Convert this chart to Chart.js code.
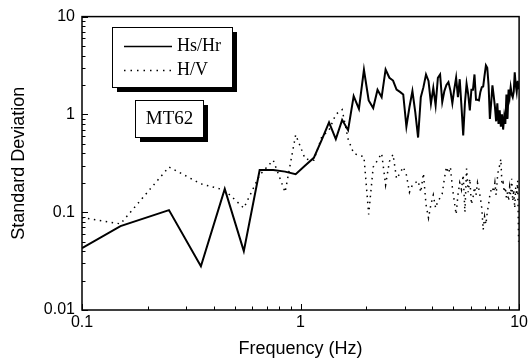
<!DOCTYPE html>
<html>
<head>
<meta charset="utf-8">
<script src="https://cdn.jsdelivr.net/npm/chart.js@4.4.0/dist/chart.umd.min.js"></script>
<style>
  html, body { margin: 0; padding: 0; background: #fff; }
</style>
</head>
<body>
<canvas id="chart" width="531" height="360"></canvas>
<script>
// frequencies (Hz) of the spectral estimates
const frequency = [
  0.1, 0.15, 0.25, 0.35, 0.45, 0.55, 0.65, 0.75, 0.85, 0.95,
  1.05, 1.15, 1.25, 1.35, 1.45, 1.55, 1.65, 1.75, 1.85, 1.95,
  2.05, 2.15, 2.25, 2.35, 2.45, 2.55, 2.65, 2.75, 2.85, 2.95,
  3.05, 3.15, 3.25, 3.35, 3.45, 3.55, 3.65, 3.75, 3.85, 3.95,
  4.05, 4.15, 4.25, 4.35, 4.45, 4.55, 4.65, 4.75, 4.85, 4.95,
  5.05, 5.15, 5.25, 5.35, 5.45, 5.55, 5.65, 5.75, 5.85, 5.95,
  6.05, 6.15, 6.25, 6.35, 6.45, 6.55, 6.65, 6.75, 6.85, 6.95,
  7.05, 7.15, 7.25, 7.35, 7.45, 7.55, 7.65, 7.75, 7.85, 7.95,
  8.05, 8.15, 8.25, 8.35, 8.45, 8.55, 8.65, 8.75, 8.85, 8.95,
  9.05, 9.15, 9.25, 9.35, 9.45, 9.55, 9.65, 9.75, 9.85, 9.95
];
const hsHr = [
  0.043, 0.072, 0.105, 0.028, 0.173, 0.040, 0.27, 0.27, 0.26, 0.245,
  0.30, 0.36, 0.55, 0.83, 0.56, 0.88, 0.69, 1.54, 1.14, 2.86,
  1.39, 1.16, 1.79, 1.50, 2.88, 2.37, 2.22, 1.79, 1.70, 1.60,
  0.75, 1.19, 1.73, 1.05, 0.58, 1.50, 1.90, 2.56, 2.20, 1.29,
  1.87, 1.24, 2.37, 2.56, 1.34, 1.73, 2.00, 2.14, 1.75, 1.30,
  1.80, 2.37, 1.50, 2.29, 1.20, 0.61, 1.30, 2.06, 1.60, 1.10,
  1.79, 1.79, 2.56, 1.41, 1.41, 1.39, 1.70, 1.90, 1.93, 2.50,
  3.17, 3.00, 2.00, 0.90, 1.30, 1.98, 1.56, 1.20, 0.85, 1.30,
  0.80, 1.10, 0.75, 1.00, 0.70, 0.95, 0.80, 1.60, 0.90, 1.80,
  1.50, 1.90, 1.60, 1.50, 1.70, 2.70, 2.00, 1.70, 2.20, 1.80
];
const hv = [
  0.088, 0.076, 0.29, 0.195, 0.168, 0.11, 0.24, 0.34, 0.16, 0.62,
  0.35, 0.34, 0.59, 0.69, 1.0, 1.12, 0.56, 0.40, 0.38, 0.37,
  0.095, 0.29, 0.34, 0.40, 0.19, 0.33, 0.39, 0.22, 0.25, 0.29,
  0.24, 0.16, 0.19, 0.20, 0.21, 0.16, 0.25, 0.12, 0.087, 0.12,
  0.15, 0.11, 0.13, 0.14, 0.155, 0.22, 0.29, 0.25, 0.29, 0.18,
  0.13, 0.095, 0.15, 0.20, 0.17, 0.24, 0.10, 0.28, 0.16, 0.22,
  0.12, 0.14, 0.18, 0.15, 0.20, 0.17, 0.14, 0.11, 0.066, 0.09,
  0.075, 0.10, 0.12, 0.15, 0.17, 0.18, 0.16, 0.20, 0.15, 0.22,
  0.28, 0.30, 0.35, 0.19, 0.20, 0.16, 0.18, 0.14, 0.16, 0.13,
  0.18, 0.15, 0.22, 0.13, 0.17, 0.11, 0.18, 0.15, 0.21, 0.05
];
const seriesNames = ['Hs/Hr', 'H/V'];
const stationName = 'MT62';

// axis ticks (major ones get a label)
const xTickValues = [0.1, 0.2, 0.3, 0.4, 0.5, 0.6, 0.7, 0.8, 0.9, 1, 2, 3, 4, 5, 6, 7, 8, 9, 10];
const xTickLabels = {0.1: '0.1', 1: '1', 10: '10'};
const yTickValues = [0.01, 0.02, 0.03, 0.04, 0.05, 0.06, 0.07, 0.08, 0.09,
  0.1, 0.2, 0.3, 0.4, 0.5, 0.6, 0.7, 0.8, 0.9, 1, 2, 3, 4, 5, 6, 7, 8, 9, 10];
const yTickLabels = {0.01: '0.01', 0.1: '0.1', 1: '1', 10: '10'};

const sans = "'Liberation Sans', Arial, sans-serif";
const serif = "'Liberation Serif', 'Times New Roman', serif";

function isDecade(v){
  const l = Math.log10(v);
  return Math.abs(l - Math.round(l)) < 1e-6;
}

// frame + inward tick marks
const frameTicks = {
  id: 'frameTicks',
  afterDatasetsDraw(chart){
    const ctx = chart.ctx;
    const a = chart.chartArea;
    const xs = chart.scales.x, ys = chart.scales.y;
    ctx.save();
    ctx.strokeStyle = '#000';
    ctx.lineWidth = 1;
    xs.ticks.forEach(t => {
      const px = Math.round(xs.getPixelForValue(t.value)) + 0.5;
      const len = isDecade(t.value) ? 6 : 3.5;
      ctx.beginPath();
      ctx.moveTo(px, a.bottom);
      ctx.lineTo(px, a.bottom - len);
      ctx.stroke();
    });
    ys.ticks.forEach(t => {
      const py = Math.round(ys.getPixelForValue(t.value)) + 0.5;
      const len = isDecade(t.value) ? 6 : 3.5;
      ctx.beginPath();
      ctx.moveTo(a.left, py);
      ctx.lineTo(a.left + len, py);
      ctx.stroke();
    });
    ctx.lineWidth = 1.5;
    ctx.strokeRect(a.left, a.top, a.right - a.left, a.bottom - a.top);
    ctx.restore();
  }
};

// legend box and station label, both with a drop shadow
function shadowBox(ctx, x, y, w, h){
  ctx.fillStyle = '#000';
  ctx.fillRect(x + 5, y + 5, w, h);
  ctx.fillStyle = '#fff';
  ctx.fillRect(x, y, w, h);
  ctx.strokeStyle = '#000';
  ctx.lineWidth = 1;
  ctx.strokeRect(x + 0.5, y + 0.5, w, h);
}
const legendBoxes = {
  id: 'legendBoxes',
  afterDraw(chart){
    const ctx = chart.ctx;
    ctx.save();
    shadowBox(ctx, 112, 27, 120, 60);
    ctx.strokeStyle = '#000';
    ctx.lineWidth = 1.5;
    ctx.beginPath();
    ctx.moveTo(124, 46.5); ctx.lineTo(172, 46.5);
    ctx.stroke();
    ctx.setLineDash([1.5, 5]);
    ctx.beginPath();
    ctx.moveTo(124, 70.5); ctx.lineTo(172, 70.5);
    ctx.stroke();
    ctx.setLineDash([]);
    ctx.fillStyle = '#000';
    ctx.font = '18px ' + serif;
    ctx.textBaseline = 'middle';
    ctx.textAlign = 'left';
    ctx.fillText(seriesNames[0], 177, 46);
    ctx.fillText(seriesNames[1], 177, 70);

    shadowBox(ctx, 135, 100, 68, 37);
    ctx.fillStyle = '#000';
    ctx.font = '19px ' + serif;
    ctx.textAlign = 'center';
    ctx.fillText(stationName, 169.5, 119);
    ctx.restore();
  }
};

const ctx = document.getElementById('chart').getContext('2d');
const myChart = new Chart(ctx, {
  type: 'line',
  data: {
    datasets: [{
      label: seriesNames[0],
      data: frequency.map((f, i) => ({x: f, y: hsHr[i]})),
      borderColor: '#000',
      borderWidth: 2,
      pointRadius: 0,
      tension: 0,
      fill: false
    }, {
      label: seriesNames[1],
      data: frequency.map((f, i) => ({x: f, y: hv[i]})),
      borderColor: '#000',
      borderWidth: 1.5,
      borderDash: [1.5, 4.5],
      pointRadius: 0,
      tension: 0,
      fill: false
    }]
  },
  options: {
    responsive: false,
    animation: false,
    devicePixelRatio: 1,
    layout: { padding: { top: 16, right: 4, left: 8, bottom: 0 } },
    plugins: { legend: { display: false }, tooltip: { enabled: false } },
    scales: {
      x: {
        type: 'logarithmic',
        min: 0.1,
        max: 10,
        afterBuildTicks: s => { s.ticks = xTickValues.map(v => ({value: v})); },
        afterFit: s => { s.height = 50; },
        grid: { display: false, drawTicks: false },
        border: { display: false },
        ticks: {
          autoSkip: false,
          maxRotation: 0,
          padding: 3,
          color: '#000',
          font: { family: sans, size: 16 },
          callback: v => xTickLabels[v] || ''
        },
        title: {
          display: true,
          text: 'Frequency (Hz)',
          color: '#000',
          font: { family: sans, size: 18 },
          padding: { top: 0, bottom: 0 }
        }
      },
      y: {
        type: 'logarithmic',
        min: 0.01,
        max: 10,
        afterBuildTicks: s => { s.ticks = yTickValues.map(v => ({value: v})); },
        afterFit: s => { s.width = 74; },
        grid: { display: false, drawTicks: false },
        border: { display: false },
        ticks: {
          autoSkip: false,
          padding: 7,
          color: '#000',
          font: { family: sans, size: 16 },
          callback: v => yTickLabels[v] || ''
        },
        title: {
          display: true,
          text: 'Standard Deviation',
          color: '#000',
          font: { family: sans, size: 18 },
          padding: { top: 0, bottom: 0 }
        }
      }
    }
  },
  plugins: [frameTicks, legendBoxes]
});
</script>
</body>
</html>
